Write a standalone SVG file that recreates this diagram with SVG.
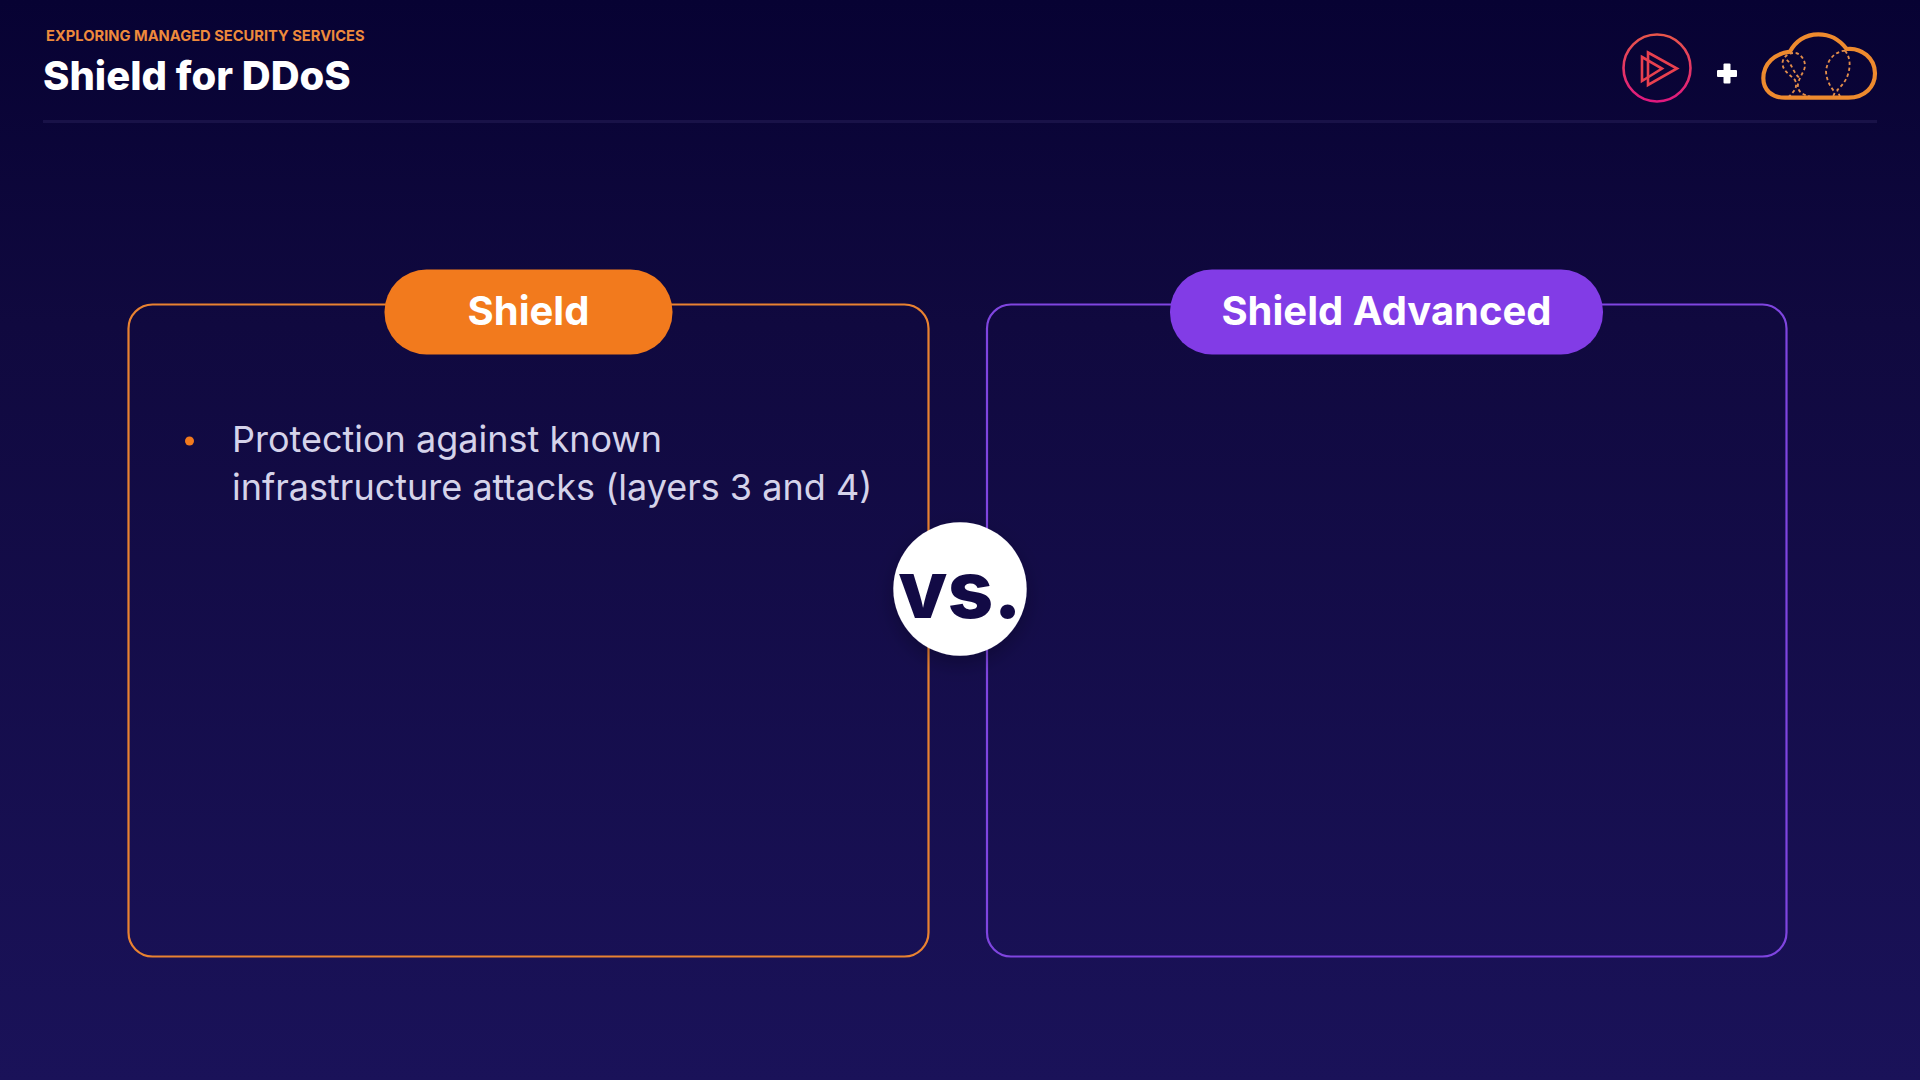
<svg xmlns="http://www.w3.org/2000/svg" width="1920" height="1080" viewBox="0 0 1920 1080">
<style>
text{font-family:Inter,"Liberation Sans",sans-serif}
.panel{fill:none;stroke-width:2.2}
.pilltext{fill:#fff;font-size:40px;font-weight:700;text-anchor:middle}
.body{fill:#d5d3ea;font-size:36px;font-weight:400}
</style>
<defs>
<linearGradient id="bg" x1="0" y1="0" x2="0" y2="1"><stop offset="0" stop-color="#070233"/><stop offset=".3" stop-color="#10093f"/><stop offset="1" stop-color="#1a1259"/></linearGradient>
<linearGradient id="ps" x1="0" y1="0" x2="0" y2="1"><stop offset="0" stop-color="#e8554a"/><stop offset="1" stop-color="#e0187f"/></linearGradient>
<filter id="sh" x="-30%" y="-30%" width="160%" height="170%"><feDropShadow dx="0" dy="8" stdDeviation="10" flood-color="#000" flood-opacity="0.25"/></filter>
</defs>
<rect width="1920" height="1080" fill="url(#bg)"/>
<g id="header">
<text x="46" y="41" font-size="14.7" font-weight="700" fill="#ee8a3c">EXPLORING MANAGED SECURITY SERVICES</text>
<text x="43" y="90" font-size="40" font-weight="800" fill="#fff">Shield for DDoS</text>
<rect x="43" y="120" width="1834" height="3" fill="#191248"/>
</g>
<g id="logo-play" fill="none" stroke-width="2.6" stroke="url(#ps)">
<circle cx="1657" cy="68" r="33.5"/>
<path d="M1648 52.500L1677 68.500L1648 85Z" stroke="#e8404f" stroke-linejoin="miter"/>
<path d="M1642 57L1662 68.500L1642 81Z" stroke="#e8404f"/>
</g>
<g id="plus" fill="#fff"><rect x="1717" y="70" width="20" height="7" rx="1"/><rect x="1723.500" y="63.500" width="7" height="20" rx="1"/></g>
<g id="logo-cloud" transform="translate(1600 20) scale(.33333)" fill="none" stroke="#ee8a2e">
<path stroke-width="12.500" stroke-linejoin="round" d="M555 233H745C795 233 825 200 825 160C825 115 785 82 740 87C715 55 690 43 655 43C615 43 585 65 570 95C525 100 490 130 490 175C490 210 515 233 555 233Z"/>
<g stroke-width="5.500" stroke-dasharray="10 8" stroke="#e28d4a">
<path d="M565 232C580 215 595 205 585 180C565 160 545 150 548 125C552 105 575 95 592 100C610 110 620 130 612 150C600 175 585 195 600 215C610 225 620 225 630 230"/>
<path d="M560 120C575 130 580 160 600 175"/>
<path d="M735 92C700 95 680 125 678 155C680 185 695 205 703 215C705 222 700 228 695 232M735 92C750 110 752 135 745 160C738 185 722 200 712 210C715 218 718 225 720 230"/>
</g>
</g>
<g id="connectors"></g>
<g id="shield-panel">
<rect class="panel" x="128.500" y="304.500" width="800" height="652" rx="24" stroke="#e98231"/>
<rect x="384.500" y="269.500" width="288" height="85" rx="42" fill="#f27a1d"/>
<text class="pilltext" x="528.500" y="325">Shield</text>
<circle cx="189.500" cy="441" r="4.500" fill="#f27a1d"/>
<text class="body" x="232" y="452">Protection against known</text>
<text class="body" x="232" y="500">infrastructure attacks (layers 3 and 4)</text>
</g>
<g id="advanced-panel">
<rect class="panel" x="987" y="304.500" width="799.500" height="652" rx="24" stroke="#7f45e0"/>
<rect x="1170" y="269.500" width="433" height="85" rx="42" fill="#823ce6"/>
<text class="pilltext" x="1386.500" y="325">Shield Advanced</text>
</g>
<g id="vs">
<circle cx="960" cy="589" r="66.700" fill="#fff" filter="url(#sh)"/>
<text x="960" y="618" font-size="80" font-weight="800" fill="#120a45" text-anchor="middle">vs.</text>
</g>
</svg>
